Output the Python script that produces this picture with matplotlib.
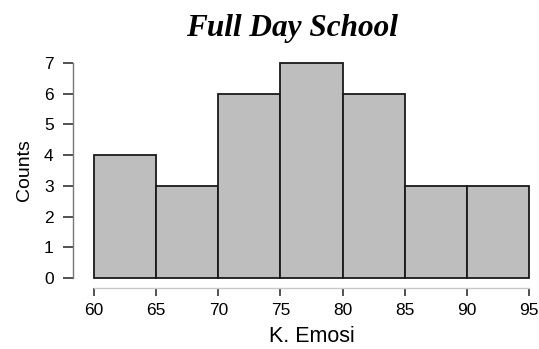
import numpy as np
import matplotlib
matplotlib.use("Agg")
import matplotlib.pyplot as plt

# histogram of emotional scores, full day school group
bin_edges = [60, 65, 70, 75, 80, 85, 90, 95]
counts = [4, 3, 6, 7, 6, 3, 3]
x_ticks = [60, 65, 70, 75, 80, 85, 90, 95]
y_ticks = [0, 1, 2, 3, 4, 5, 6, 7]

plt.rcParams['font.family'] = ['Liberation Sans', 'DejaVu Sans']

W, H = 539, 349
fig = plt.figure(figsize=(W / 100, H / 100), dpi=100)

# axes box in pixel terms: spines sit at left x=73, bottom y=288
left_px, right_px, top_px, bot_px = 73, 536, 58, 288
ax = fig.add_axes([left_px / W, 1 - bot_px / H,
                   (right_px - left_px) / W, (bot_px - top_px) / H])

# data -> pixel: 60 at 94, 95 at 529 ; 0 at 278, 7 at 63
xs = (529 - 94) / 35.0
ys = (278 - 63) / 7.0
ax.set_xlim(60 - (94 - left_px) / xs, 95 + (right_px - 529) / xs)
ax.set_ylim(0 - (bot_px - 278) / ys, 7 + (63 - top_px) / ys)

widths = np.diff(bin_edges)
ax.bar(bin_edges[:-1], counts, width=widths, align='edge',
       color='#bebebe', edgecolor='#1a1a1a', linewidth=1.3)

for s in ['top', 'right']:
    ax.spines[s].set_visible(False)
ax.spines['left'].set_bounds(0, 7)
ax.spines['left'].set_color('#777777')
ax.spines['left'].set_linewidth(1.0)
ax.spines['bottom'].set_bounds(60, 95)
ax.spines['bottom'].set_color('#c8c8c8')
ax.spines['bottom'].set_linewidth(1.0)

ax.set_xticks(x_ticks)
ax.set_yticks(y_ticks)
ax.tick_params(axis='y', length=7, width=1.2, color='#333333',
               labelsize=12.5, pad=7)
ax.tick_params(axis='x', length=6, width=1.2, color='#333333',
               labelsize=12.5, pad=5)

ax.set_xlabel('K. Emosi', fontsize=15.5)
ax.set_ylabel('Counts', fontsize=14)
# centre the x label under the 60-95 range, not the whole axes box
ax.xaxis.set_label_coords((312 - left_px) / (right_px - left_px), -0.167)
ax.yaxis.set_label_coords((33 - left_px) / (right_px - left_px),
                          (bot_px - 170) / (bot_px - top_px))

fig.text(0.541, 1 - 36 / H, 'Full Day School', ha='center', va='baseline',
         fontsize=22.5, fontweight='bold', fontstyle='italic',
         family=['Liberation Serif', 'DejaVu Serif'])

fig.savefig('out.png', dpi=100)
